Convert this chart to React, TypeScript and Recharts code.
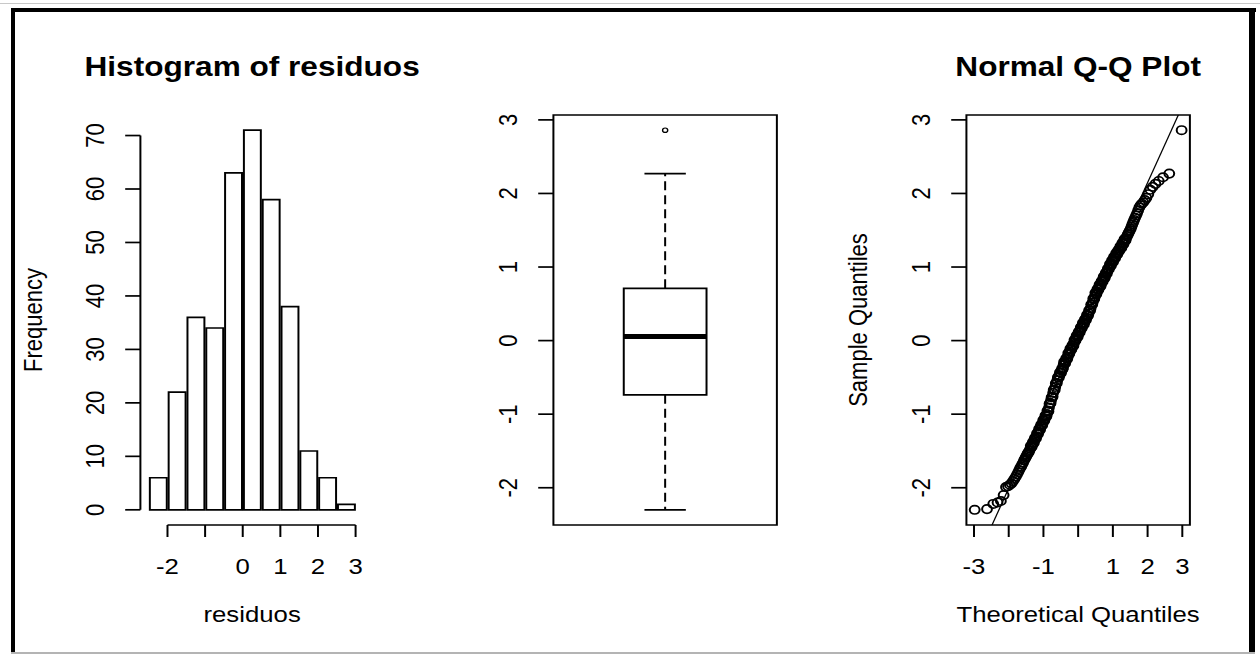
import React from 'react';
import {
  ComposedChart, ScatterChart, Bar, Scatter,
  XAxis, YAxis, ReferenceLine, ReferenceArea,
} from 'recharts';

// ---- histogram of residuos (bins of width 0.5, lower edges) ----
const BIN_START = [-2.5, -2, -1.5, -1, -0.5, 0, 0.5, 1, 1.5, 2, 2.5];
const BIN_COUNT = [6, 22, 36, 34, 63, 71, 58, 38, 11, 6, 1];
const BIN_WIDTH = 0.5;
const HIST_X_TICKS = [-2, -1, 0, 1, 2, 3];
const HIST_Y_TICKS = [0, 10, 20, 30, 40, 50, 60, 70];

// ---- boxplot: min, Q1, median, Q3, upper whisker; plus outliers ----
const BOX_STATS = [-2.3, -0.737, 0.055, 0.71, 2.27];
const BOX_OUTLIERS = [2.86];
const RESID_TICKS = [-2, -1, 0, 1, 2, 3];

// ---- normal Q-Q plot: points ----
const QQ_THEORETICAL = [
  -2.98, -2.625, -2.445, -2.322, -2.226, -2.147, -2.079, -2.02, -1.967, -1.92,
  -1.876, -1.835, -1.797, -1.762, -1.728, -1.697, -1.668, -1.639, -1.612, -1.586,
  -1.561, -1.537, -1.514, -1.492, -1.47, -1.449, -1.428, -1.409,
  -1.38, -1.365, -1.35, -1.335, -1.32, -1.305, -1.29, -1.275, -1.26, -1.245,
  -1.23, -1.215, -1.2, -1.185, -1.17, -1.155, -1.14, -1.125, -1.11, -1.095,
  -1.08, -1.065, -1.05, -1.035, -1.02, -1.005, -0.99, -0.975, -0.96, -0.945,
  -0.93, -0.915, -0.9, -0.885, -0.87, -0.855, -0.84, -0.825, -0.81, -0.795,
  -0.78, -0.765, -0.75, -0.735, -0.72, -0.705, -0.69, -0.675, -0.66, -0.645,
  -0.63, -0.615, -0.6, -0.585, -0.57, -0.555, -0.54, -0.525, -0.51, -0.495,
  -0.48, -0.465, -0.45, -0.435, -0.42, -0.405, -0.39, -0.375, -0.36, -0.345,
  -0.33, -0.315, -0.3, -0.285, -0.27, -0.255, -0.24, -0.225, -0.21, -0.195,
  -0.18, -0.165, -0.15, -0.135, -0.12, -0.105, -0.09, -0.075, -0.06, -0.045,
  -0.03, -0.015, 0, 0.015, 0.03, 0.045, 0.06, 0.075, 0.09, 0.105,
  0.12, 0.135, 0.15, 0.165, 0.18, 0.195, 0.21, 0.225, 0.24, 0.255,
  0.27, 0.285, 0.3, 0.315, 0.33, 0.345, 0.36, 0.375, 0.39, 0.405,
  0.42, 0.435, 0.45, 0.465, 0.48, 0.495, 0.51, 0.525, 0.54, 0.555,
  0.57, 0.585, 0.6, 0.615, 0.63, 0.645, 0.66, 0.675, 0.69, 0.705,
  0.72, 0.735, 0.75, 0.765, 0.78, 0.795, 0.81, 0.825, 0.84, 0.855,
  0.87, 0.885, 0.9, 0.915, 0.93, 0.945, 0.96, 0.975, 0.99, 1.005,
  1.02, 1.035, 1.05, 1.065, 1.08, 1.095, 1.11, 1.125, 1.14, 1.155,
  1.17, 1.185, 1.2, 1.215, 1.23, 1.245, 1.26, 1.275, 1.29, 1.305,
  1.32, 1.335, 1.35, 1.365, 1.38,
  1.409, 1.429, 1.449, 1.47, 1.492, 1.514, 1.537, 1.561, 1.586, 1.612,
  1.639, 1.668, 1.697, 1.728, 1.762, 1.797, 1.835, 1.876, 1.92, 1.967,
  2.02, 2.079, 2.147, 2.226, 2.322, 2.445, 2.625, 2.98,
];
const QQ_SAMPLE = [
  -2.3, -2.29, -2.22, -2.2, -2.18, -2.1, -1.99, -1.98, -1.96, -1.94,
  -1.91, -1.88, -1.85, -1.82, -1.79, -1.76, -1.73, -1.71, -1.68, -1.66,
  -1.63, -1.61, -1.59, -1.57, -1.55, -1.53, -1.52, -1.5,
  -1.47, -1.43, -1.45, -1.44, -1.41, -1.38, -1.39, -1.39, -1.35, -1.32,
  -1.33, -1.33, -1.3, -1.26, -1.26, -1.27, -1.24, -1.2, -1.21, -1.21,
  -1.17, -1.14, -1.15, -1.15, -1.12, -1.08, -1.08, -1.09, -1.06, -1.02,
  -1.02, -1.03, -1.0, -0.95, -0.96, -0.96, -0.91, -0.86, -0.85, -0.85,
  -0.81, -0.77, -0.77, -0.76, -0.71, -0.67, -0.67, -0.67, -0.63, -0.58,
  -0.58, -0.58, -0.54, -0.5, -0.5, -0.5, -0.47, -0.43, -0.44, -0.44,
  -0.41, -0.38, -0.39, -0.37, -0.33, -0.29, -0.3, -0.31, -0.28, -0.24,
  -0.24, -0.25, -0.22, -0.17, -0.18, -0.18, -0.15, -0.11, -0.12, -0.12,
  -0.09, -0.06, -0.07, -0.07, -0.03, 0.01, 0.0, 0.0, 0.03, 0.07,
  0.06, 0.05, 0.08, 0.12, 0.12, 0.11, 0.14, 0.18, 0.17, 0.17,
  0.2, 0.24, 0.23, 0.22, 0.25, 0.29, 0.29, 0.28, 0.31, 0.35,
  0.34, 0.34, 0.37, 0.41, 0.41, 0.41, 0.44, 0.49, 0.49, 0.49,
  0.52, 0.57, 0.56, 0.57, 0.6, 0.65, 0.64, 0.63, 0.66, 0.7,
  0.7, 0.69, 0.72, 0.76, 0.75, 0.74, 0.77, 0.81, 0.81, 0.8,
  0.83, 0.87, 0.86, 0.85, 0.88, 0.92, 0.92, 0.91, 0.94, 0.98,
  0.97, 0.97, 1.0, 1.04, 1.02, 1.02, 1.05, 1.09, 1.08, 1.07,
  1.1, 1.14, 1.13, 1.12, 1.15, 1.19, 1.18, 1.17, 1.2, 1.23,
  1.22, 1.22, 1.25, 1.28, 1.27, 1.26, 1.29, 1.33, 1.32, 1.31,
  1.34, 1.38, 1.37, 1.36, 1.39,
  1.42, 1.44, 1.46, 1.48, 1.5, 1.52, 1.55, 1.58, 1.61, 1.64,
  1.67, 1.7, 1.73, 1.77, 1.81, 1.84, 1.86, 1.88, 1.91, 1.94,
  1.99, 2.05, 2.09, 2.13, 2.17, 2.22, 2.27, 2.86,
];
const QQ_X_TICKS = [-3, -2, -1, 0, 1, 2, 3];
// qqline passes through the sample quartiles at the normal quartiles
const QQ_LINE_THEO = [-0.674, 0.674];
const QQ_LINE_SAMPLE = [-0.63, 0.77];

// layout (drawn in an unstretched space, then stretched horizontally like the source)
const STRETCH = 1.17;
const INNER_W = 1077;
const H = 655;
const PANEL_W = 353;
const Y_AXIS_W = 60;
const X_AXIS_H = 60;
const MARGIN = { top: 115, right: 42, left: 60, bottom: 70 };
const PLOT_W = PANEL_W - MARGIN.left - MARGIN.right - Y_AXIS_W;
const FONT = '"Liberation Sans", Arial, Helvetica, sans-serif';
const LW = 1.7;

// R extends axis ranges by 4%
function pad(lo: number, hi: number): [number, number] {
  const d = (hi - lo) * 0.04;
  return [lo - d, hi + d];
}

function makeXTick(hidden: number[]) {
  return function XTick(props: any) {
    const { x, y, payload } = props;
    if (hidden.includes(payload.value)) return <g />;
    return (
      <text x={x} y={y} dy="0.71em" textAnchor="middle" fontSize={22} fontFamily={FONT} fill="#000">
        {payload.value}
      </text>
    );
  };
}

function YTick(props: any) {
  const { x, y, payload } = props;
  return (
    <text
      x={x}
      y={y}
      transform={`rotate(-90 ${x} ${y})`}
      textAnchor="middle"
      fontSize={22}
      fontFamily={FONT}
      fill="#000"
    >
      {payload.value}
    </text>
  );
}

const tickLine = { stroke: '#000', strokeWidth: LW };

function Histogram() {
  const data = BIN_START.map((s, i) => ({ mid: s + BIN_WIDTH / 2, count: BIN_COUNT[i] }));
  const xDom = pad(BIN_START[0], BIN_START[BIN_START.length - 1] + BIN_WIDTH);
  const yDom = pad(0, Math.max(...BIN_COUNT));
  const barSize = (BIN_WIDTH * PLOT_W) / (xDom[1] - xDom[0]);
  return (
    <ComposedChart width={PANEL_W} height={H} data={data} margin={MARGIN}>
      <XAxis
        type="number"
        dataKey="mid"
        domain={xDom}
        allowDataOverflow
        ticks={HIST_X_TICKS}
        interval={0}
        axisLine={false}
        tickLine={tickLine}
        tickSize={12}
        tickMargin={21}
        height={X_AXIS_H}
        tick={makeXTick([-1])}
      />
      <YAxis
        type="number"
        domain={yDom}
        allowDataOverflow
        ticks={HIST_Y_TICKS}
        interval={0}
        axisLine={false}
        tickLine={tickLine}
        tickSize={13}
        tickMargin={18}
        width={Y_AXIS_W}
        tick={YTick}
      />
      <Bar
        dataKey="count"
        fill="#fff"
        stroke="#000"
        strokeWidth={LW}
        barSize={barSize}
        isAnimationActive={false}
      />
      <ReferenceLine
        segment={[{ x: HIST_X_TICKS[0], y: yDom[0] }, { x: HIST_X_TICKS[HIST_X_TICKS.length - 1], y: yDom[0] }]}
        stroke="#000"
        strokeWidth={LW}
        ifOverflow="visible"
      />
      <ReferenceLine
        segment={[{ x: xDom[0], y: HIST_Y_TICKS[0] }, { x: xDom[0], y: HIST_Y_TICKS[HIST_Y_TICKS.length - 1] }]}
        stroke="#000"
        strokeWidth={LW}
        ifOverflow="visible"
      />
    </ComposedChart>
  );
}

function BoxPlot() {
  const [lo, q1, med, q3, hi] = BOX_STATS;
  const yDom = pad(lo, Math.max(hi, ...BOX_OUTLIERS));
  const xDom = pad(0.5, 1.5);
  const c = 1;
  const half = 0.2;
  const cap = 0.1;
  const dash = '9 5';
  return (
    <ScatterChart width={PANEL_W} height={H} margin={{ ...MARGIN, bottom: MARGIN.bottom + X_AXIS_H }}>
      <XAxis type="number" dataKey="x" domain={xDom} allowDataOverflow hide />
      <YAxis
        type="number"
        dataKey="y"
        domain={yDom}
        allowDataOverflow
        ticks={RESID_TICKS}
        interval={0}
        axisLine={false}
        tickLine={tickLine}
        tickSize={13}
        tickMargin={18}
        width={Y_AXIS_W}
        tick={YTick}
      />
      <ReferenceArea x1={xDom[0]} x2={xDom[1]} y1={yDom[0]} y2={yDom[1]} fill="none" stroke="#000" strokeWidth={LW} ifOverflow="visible" />
      <ReferenceLine segment={[{ x: c, y: q3 }, { x: c, y: hi }]} stroke="#000" strokeWidth={LW} strokeDasharray={dash} ifOverflow="visible" />
      <ReferenceLine segment={[{ x: c, y: q1 }, { x: c, y: lo }]} stroke="#000" strokeWidth={LW} strokeDasharray={dash} ifOverflow="visible" />
      <ReferenceLine segment={[{ x: c - cap, y: hi }, { x: c + cap, y: hi }]} stroke="#000" strokeWidth={LW} ifOverflow="visible" />
      <ReferenceLine segment={[{ x: c - cap, y: lo }, { x: c + cap, y: lo }]} stroke="#000" strokeWidth={LW} ifOverflow="visible" />
      <ReferenceArea x1={c - half} x2={c + half} y1={q1} y2={q3} fill="#fff" fillOpacity={1} stroke="#000" strokeWidth={LW} ifOverflow="visible" />
      <ReferenceLine segment={[{ x: c - half, y: med }, { x: c + half, y: med }]} stroke="#000" strokeWidth={5} ifOverflow="visible" />
      <Scatter
        data={BOX_OUTLIERS.map((v) => ({ x: c, y: v }))}
        isAnimationActive={false}
        shape={(p: any) => <circle cx={p.cx} cy={p.cy} r={2.2} fill="none" stroke="#000" strokeWidth={1.2} />}
      />
    </ScatterChart>
  );
}

function QQPlot() {
  const data = QQ_THEORETICAL.map((x, i) => ({ x, y: QQ_SAMPLE[i] }));
  const xDom = pad(Math.min(...QQ_THEORETICAL), Math.max(...QQ_THEORETICAL));
  const yDom = pad(Math.min(...QQ_SAMPLE), Math.max(...QQ_SAMPLE));
  const slope = (QQ_LINE_SAMPLE[1] - QQ_LINE_SAMPLE[0]) / (QQ_LINE_THEO[1] - QQ_LINE_THEO[0]);
  const icpt = QQ_LINE_SAMPLE[0] - slope * QQ_LINE_THEO[0];
  return (
    <ScatterChart width={PANEL_W} height={H} margin={MARGIN}>
      <XAxis
        type="number"
        dataKey="x"
        domain={xDom}
        allowDataOverflow
        ticks={QQ_X_TICKS}
        interval={0}
        axisLine={false}
        tickLine={tickLine}
        tickSize={12}
        tickMargin={21}
        height={X_AXIS_H}
        tick={makeXTick([-2, 0])}
      />
      <YAxis
        type="number"
        dataKey="y"
        domain={yDom}
        allowDataOverflow
        ticks={RESID_TICKS}
        interval={0}
        axisLine={false}
        tickLine={tickLine}
        tickSize={13}
        tickMargin={18}
        width={Y_AXIS_W}
        tick={YTick}
      />
      <ReferenceArea x1={xDom[0]} x2={xDom[1]} y1={yDom[0]} y2={yDom[1]} fill="none" stroke="#000" strokeWidth={LW} ifOverflow="visible" />
      <Scatter
        data={data}
        isAnimationActive={false}
        shape={(p: any) => <circle cx={p.cx} cy={p.cy} r={4.2} fill="none" stroke="#000" strokeWidth={1.7} />}
      />
      <ReferenceLine
        segment={[
          { x: xDom[0], y: icpt + slope * xDom[0] },
          { x: xDom[1], y: icpt + slope * xDom[1] },
        ]}
        stroke="#000"
        strokeWidth={1.1}
        ifOverflow="hidden"
      />
    </ScatterChart>
  );
}

function Labels() {
  const plotCx = (i: number) => i * PANEL_W + MARGIN.left + Y_AXIS_W + PLOT_W / 2;
  const plotL = (i: number) => i * PANEL_W + MARGIN.left + Y_AXIS_W;
  const midY = (MARGIN.top + (H - MARGIN.bottom - X_AXIS_H)) / 2;
  const t = { fontFamily: FONT, fill: '#000', textAnchor: 'middle' as const };
  return (
    <svg width={INNER_W} height={H} style={{ position: 'absolute', left: 0, top: 0, pointerEvents: 'none' }}>
      <text x={plotCx(0)} y={76} fontSize={27} fontWeight="bold" {...t}>Histogram of residuos</text>
      <text x={plotCx(2)} y={76} fontSize={27} fontWeight="bold" {...t}>Normal Q-Q Plot</text>
      <text x={plotCx(0)} y={622} fontSize={22} {...t}>residuos</text>
      <text x={plotCx(2)} y={622} fontSize={22} {...t}>Theoretical Quantiles</text>
      <text x={plotL(0) - 84} y={midY} fontSize={22} transform={`rotate(-90 ${plotL(0) - 84} ${midY})`} {...t}>Frequency</text>
      <text x={plotL(2) - 85} y={midY} fontSize={22} transform={`rotate(-90 ${plotL(2) - 85} ${midY})`} {...t}>Sample Quantiles</text>
    </svg>
  );
}

export default function App() {
  return (
    <div style={{ position: 'absolute', left: 0, top: 0, width: 1260, height: H, background: '#fff', overflow: 'hidden' }}>
      <div
        style={{
          position: 'absolute',
          left: 0,
          top: 0,
          width: INNER_W,
          height: H,
          transform: `scaleX(${STRETCH})`,
          transformOrigin: '0 0',
        }}
      >
        <div style={{ position: 'absolute', left: 0, top: 0 }}><Histogram /></div>
        <div style={{ position: 'absolute', left: PANEL_W, top: 0 }}><BoxPlot /></div>
        <div style={{ position: 'absolute', left: PANEL_W * 2, top: 0 }}><QQPlot /></div>
        <Labels />
      </div>
      {/* frame around the screenshot */}
      <div style={{ position: 'absolute', left: 0, top: 3, width: 1260, height: 1, background: '#c8c8c8' }} />
      <div style={{ position: 'absolute', left: 11, top: 8, width: 1245, height: 4, background: '#000' }} />
      <div style={{ position: 'absolute', left: 11, top: 8, width: 4, height: 644, background: '#000' }} />
      <div style={{ position: 'absolute', left: 1249, top: 8, width: 6, height: 644, background: '#000' }} />
      <div style={{ position: 'absolute', left: 11, top: 652, width: 1244, height: 2, background: '#b4b4b4' }} />
    </div>
  );
}
